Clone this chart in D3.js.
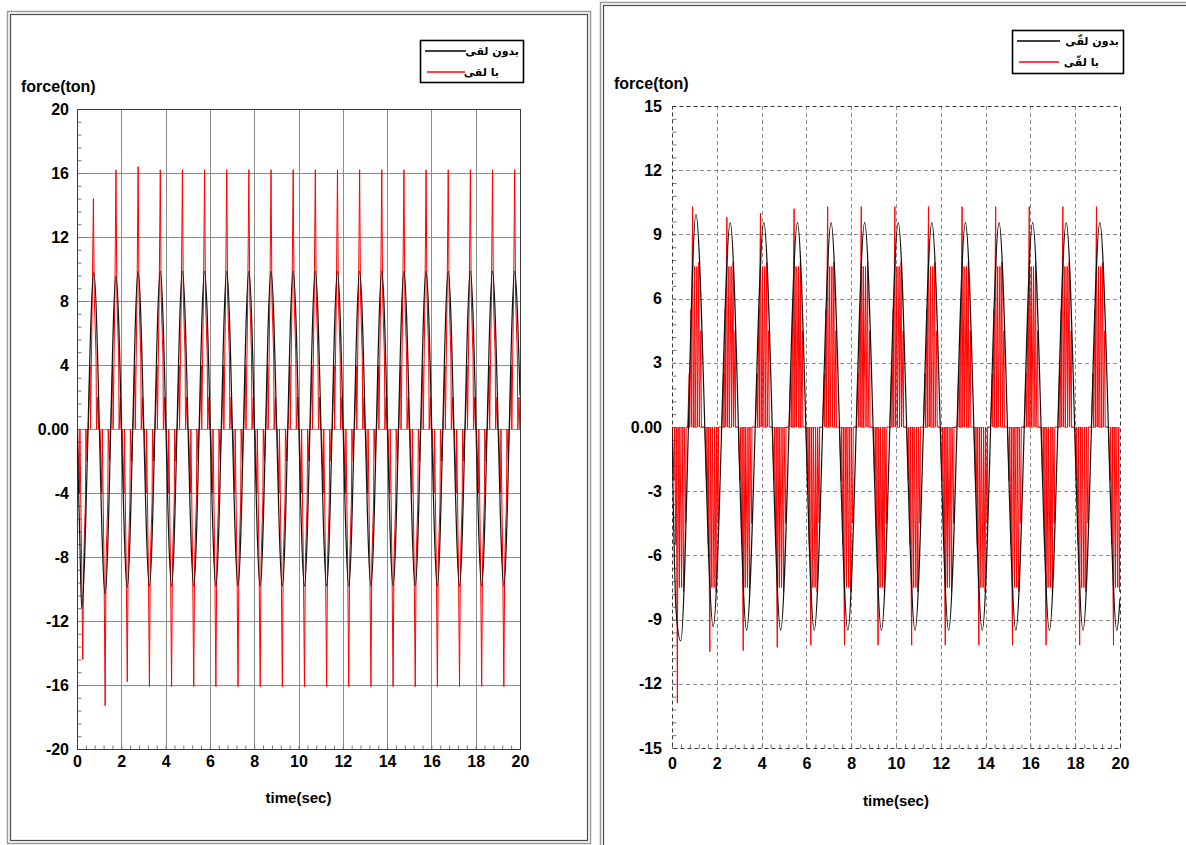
<!DOCTYPE html>
<html><head><meta charset="utf-8">
<script src="https://cdn.jsdelivr.net/npm/d3@7"></script>
<style>body{margin:0;background:#fff}svg{display:block}</style>
</head><body>
<svg id="c" width="1186" height="845"></svg>
<script>
// ---------- DATA ----------
const leftYTicks = [-20,-16,-12,-8,-4,0,4,8,12,16,20];
const rightYTicks = [-15,-12,-9,-6,-3,0,3,6,9,12,15];
const xTicks = [0,2,4,6,8,10,12,14,16,18,20];

// Left: without gap (black) extrema
const leftBlackT = [0,0.12,0.21,0.76,1.27,1.76,2.27,2.76,3.27,3.76,4.27,4.76,5.27,5.76,6.27,6.76,7.27,7.76,8.27,8.76,9.27,9.76,10.27,10.76,11.27,11.76,12.27,12.76,13.27,13.76,14.27,14.76,15.27,15.76,16.27,16.76,17.27,17.76,18.27,18.76,19.27,19.76,20];
const leftBlackV = [0,-6.5,-11.2,9.77,-10.3,9.56,-9.9,9.83,-9.8,9.85,-9.8,9.85,-9.8,9.85,-9.8,9.85,-9.8,9.85,-9.8,9.85,-9.8,9.85,-9.8,9.85,-9.8,9.85,-9.8,9.85,-9.8,9.85,-9.8,9.85,-9.8,9.85,-9.8,9.85,-9.8,9.85,-9.8,9.85,-9.8,9.85,2.1];
// Left: with gap (red) impact spikes
const leftRedPosT = [0.74,1.76,2.76,3.76,4.76,5.76,6.76,7.76,8.76,9.76,10.76,11.76,12.76,13.76,14.76,15.76,16.76,17.76,18.76,19.76];
const leftRedPosV = [14.4,16.2,16.4,16.2,16.2,16.2,16.2,16.2,16.2,16.2,16.2,16.2,16.2,16.2,16.2,16.2,16.2,16.2,16.2,16.2];
const leftRedNegT = [0.26,1.27,2.27,3.27,4.27,5.27,6.27,7.27,8.27,9.27,10.27,11.27,12.27,13.27,14.27,15.27,16.27,17.27,18.27,19.27];
const leftRedNegV = [-14.4,-17.3,-15.8,-16.1,-16.1,-16.1,-16.1,-16.1,-16.1,-16.1,-16.1,-16.1,-16.1,-16.1,-16.1,-16.1,-16.1,-16.1,-16.1,-16.1];
// shape of one red contact episode (time offset, magnitude; null = spike value)
const leftRedLobe = [[-0.23,0],[-0.15,4],[-0.13,0],[-0.05,8.5],[0,null],[0.04,8.3],[0.12,4.5],[0.14,0],[0.2,2],[0.23,0]];

// Right: without gap (black) extrema
const rightBlackT = [0,0.18,0.39,1.07,1.84,2.6,3.33,4.1,4.85,5.6,6.35,7.1,7.85,8.6,9.35,10.1,10.85,11.6,12.35,13.1,13.85,14.6,15.35,16.1,16.85,17.6,18.35,19.1,19.86,20];
const rightBlackV = [0,-8.55,-10.0,9.94,-9.33,9.55,-9.49,9.55,-9.49,9.55,-9.5,9.55,-9.5,9.55,-9.5,9.55,-9.5,9.55,-9.5,9.55,-9.5,9.55,-9.5,9.55,-9.5,9.55,-9.5,9.55,-9.5,-8.0];
// Right: with gap (red)
const rightRedPosT = [1.07,2.6,4.1,5.6,7.1,8.6,10.1,11.6,13.1,14.6,16.1,17.6,19.1];
const rightRedPosV = [10.3,9.8,10.0,10.2,10.3,10.3,10.3,10.3,10.3,10.3,10.3,10.3,10.3];
const rightRedNegT = [0.39,1.84,3.33,4.85,6.35,7.85,9.35,10.85,12.35,13.85,15.35,16.85,18.35,19.86];
const rightRedNegV = [-12.9,-10.5,-10.45,-10.3,-10.2,-10.2,-10.2,-10.2,-10.2,-10.2,-10.2,-10.2,-10.2,-10.2];
const rightRedLobe = [[-0.37,0],[-0.30,2.5],[-0.28,0],[-0.22,5.5],[-0.20,0],[-0.17,8],[-0.15,null],[-0.12,0],[-0.06,7.5],[-0.04,0],[0.04,7.5],[0.06,0],[0.13,7.7],[0.15,0],[0.22,4.5],[0.24,0],[0.32,0]];

const legendLabelsLeft = ["بدون لقی","با لقی"];
const legendLabelsRight = ["بدون لقّی","با لقّی"];

// ---------- DRAW ----------
const svg = d3.select("#c");
const NUM_FONT = "'Liberation Sans', Arial, sans-serif";

function buildRed(posT,posV,negT,negV,lobe){
  const eps = [];
  posT.forEach((t,i)=>eps.push([t,posV[i]]));
  negT.forEach((t,i)=>eps.push([t,negV[i]]));
  eps.sort((a,b)=>a[0]-b[0]);
  const pts=[[0,0]];
  eps.forEach(([t,v])=>{
    const s = v<0?-1:1;
    lobe.forEach(([dt,m])=>pts.push([t+dt, m===null? v : s*m]));
  });
  pts.push([20.5,0]);
  return pts;
}

function frame(x0,y0,x1,y1){
  svg.append("rect").attr("x",x0+0.5).attr("y",y0+0.5).attr("width",x1-x0).attr("height",y1-y0)
    .attr("fill","none").attr("stroke","#9a9a9a").attr("stroke-width",1.5);
  svg.append("rect").attr("x",x0+3.5).attr("y",y0+3.5).attr("width",x1-x0-6).attr("height",y1-y0-6)
    .attr("fill","none").attr("stroke","#4a4a4a").attr("stroke-width",1.2);
}

function panel(o){
  const x = d3.scaleLinear().domain([0,20]).range([o.l,o.r]);
  const y = d3.scaleLinear().domain([o.ymin,o.ymax]).range([o.b,o.t]);
  const g = svg.append("g");
  const dash = o.dashed ? "4,3" : null;
  g.append("g").selectAll("line").data(xTicks.slice(1,-1)).join("line")
    .attr("x1",d=>Math.round(x(d))+0.5).attr("x2",d=>Math.round(x(d))+0.5).attr("y1",o.t).attr("y2",o.b)
    .attr("stroke","#8c8c8c").attr("stroke-width",1).attr("stroke-dasharray",dash);
  g.append("g").selectAll("line").data(o.yTicks.slice(1,-1)).join("line")
    .attr("y1",d=>Math.round(y(d))+0.5).attr("y2",d=>Math.round(y(d))+0.5).attr("x1",o.l).attr("x2",o.r)
    .attr("stroke","#8c8c8c").attr("stroke-width",1).attr("stroke-dasharray",dash);
  const ystep = (o.yTicks[1]-o.yTicks[0])/5;
  const yMinor = d3.range(o.ymin, o.ymax+1e-9, ystep);
  const xMinor = d3.range(0, 20+1e-9, 0.4);
  g.append("g").attr("transform",`translate(${o.l+0.5},0)`)
    .call(d3.axisRight(y).tickValues(yMinor).tickSize(4).tickFormat(""))
    .call(s=>{s.select(".domain").remove(); s.selectAll("line").attr("stroke","#777");});
  g.append("g").attr("transform",`translate(0,${o.b+0.5})`)
    .call(d3.axisTop(x).tickValues(xMinor).tickSize(4).tickFormat(""))
    .call(s=>{s.select(".domain").remove(); s.selectAll("line").attr("stroke","#777");});
  const cid = "clip"+o.id;
  svg.append("clipPath").attr("id",cid).append("rect")
    .attr("x",o.l).attr("y",o.t).attr("width",o.r-o.l).attr("height",o.b-o.t);
  const pg = svg.append("g").attr("clip-path",`url(#${cid})`);
  const red = buildRed(o.rPosT,o.rPosV,o.rNegT,o.rNegV,o.lobe);
  pg.append("path").datum(red)
    .attr("d",d3.line().x(d=>x(d[0])).y(d=>y(d[1])))
    .attr("fill","none").attr("stroke","#ff0000").attr("stroke-width",1);
  const blk = o.bT.map((t,i)=>[t,o.bV[i]]);
  pg.append("path").datum(blk)
    .attr("d",d3.line().curve(d3.curveMonotoneX).x(d=>x(d[0])).y(d=>y(d[1])))
    .attr("fill","none").attr("stroke","#111").attr("stroke-width",1.2);
  g.append("rect").attr("x",o.l+0.5).attr("y",o.t+0.5).attr("width",o.r-o.l).attr("height",o.b-o.t)
    .attr("fill","none").attr("stroke","#3a3a3a").attr("stroke-width",1).attr("stroke-dasharray",dash);
  const ya = g.append("g").attr("transform",`translate(${o.l},0)`)
    .call(d3.axisLeft(y).tickValues(o.yTicks).tickSize(0).tickPadding(o.ypad).tickFormat(d=>d===0?"0.00":String(d)));
  ya.select(".domain").remove();
  ya.selectAll("text").attr("font-family",NUM_FONT).attr("font-weight","bold").attr("font-size",16).attr("fill","#000");
  const xa = g.append("g").attr("transform",`translate(0,${o.b})`)
    .call(d3.axisBottom(x).tickValues(xTicks).tickSize(0).tickPadding(o.xpad).tickFormat(d=>String(d)));
  xa.select(".domain").remove();
  xa.selectAll("text").attr("font-family",NUM_FONT).attr("font-weight","bold").attr("font-size",16).attr("fill","#000");
  svg.append("text").attr("x",o.ftx).attr("y",o.fty).text("force(ton)")
    .attr("font-family",NUM_FONT).attr("font-weight","bold").attr("font-size",16);
  svg.append("text").attr("x",(o.l+o.r)/2).attr("y",o.tty).attr("text-anchor","middle").text("time(sec)")
    .attr("font-family",NUM_FONT).attr("font-weight","bold").attr("font-size",15);
  const L = o.leg;
  svg.append("rect").attr("x",L.x+0.5).attr("y",L.y+0.5).attr("width",L.w).attr("height",L.h)
    .attr("fill","#fff").attr("stroke","#000").attr("stroke-width",1.6);
  const cols = ["#000","#ff0000"];
  o.legLabels.forEach((lab,i)=>{
    const yy = L.y + 11 + i*21;
    svg.append("line").attr("x1",L.x+5+(i?2:0)).attr("x2",L.x+L.lineEnd - (i?1:0)).attr("y1",yy).attr("y2",yy)
      .attr("stroke",cols[i]).attr("stroke-width",1.5);
    svg.append("text").attr("x",L.x+L.w-4-(i?L.shift2:0)).attr("y",yy+4).attr("text-anchor","end")
      .text(lab)
      .attr("font-family","'DejaVu Sans', sans-serif").attr("font-weight","bold").attr("font-size",11);
  });
}

frame(7,11,590,843);
frame(600,2,1200,860);

panel({id:"L", l:77, r:520, t:109, b:749, ymin:-20, ymax:20, yTicks:leftYTicks, dashed:false,
  ypad:8, xpad:7, ftx:21, fty:92, tty:803,
  bT:leftBlackT, bV:leftBlackV, rPosT:leftRedPosT, rPosV:leftRedPosV, rNegT:leftRedNegT, rNegV:leftRedNegV, lobe:leftRedLobe,
  leg:{x:420,y:40,w:103,h:42,lineEnd:46,shift2:20}, legLabels:legendLabelsLeft});

panel({id:"R", l:672, r:1120, t:106, b:748, ymin:-15, ymax:15, yTicks:rightYTicks, dashed:true,
  ypad:10, xpad:10, ftx:614, fty:89, tty:806,
  bT:rightBlackT, bV:rightBlackV, rPosT:rightRedPosT, rPosV:rightRedPosV, rNegT:rightRedNegT, rNegV:rightRedNegV, lobe:rightRedLobe,
  leg:{x:1012,y:30,w:111,h:43,lineEnd:48,shift2:20}, legLabels:legendLabelsRight});
</script></body></html>
